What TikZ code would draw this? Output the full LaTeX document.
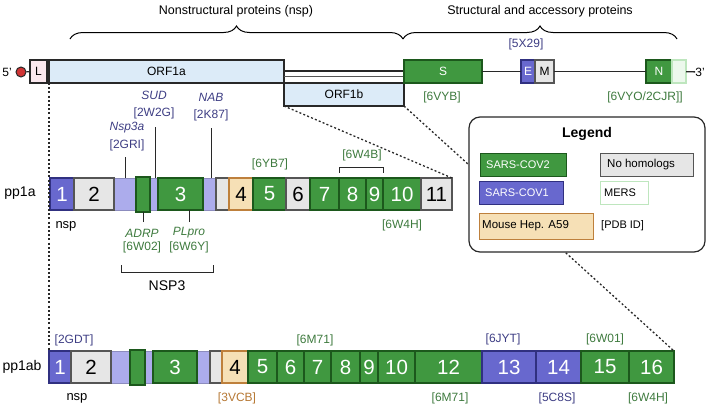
\documentclass[tikz,border=0pt]{standalone}
\usepackage{fontspec}
\setmainfont{Liberation Sans}
\usetikzlibrary{decorations.pathreplacing}
\definecolor{gfill}{RGB}{64,152,64}
\definecolor{gdraw}{RGB}{28,88,28}
\definecolor{bfill}{RGB}{104,104,206}
\definecolor{bdraw}{RGB}{48,48,128}
\definecolor{grfill}{RGB}{230,230,230}
\definecolor{grdraw}{RGB}{85,85,85}
\definecolor{lpfill}{RGB}{172,172,236}
\definecolor{lpdraw}{RGB}{140,140,190}
\definecolor{tanfill}{RGB}{246,224,182}
\definecolor{tandraw}{RGB}{190,128,60}
\definecolor{orffill}{RGB}{220,235,248}
\definecolor{lfill}{RGB}{250,232,238}
\definecolor{redc}{RGB}{208,52,52}
\definecolor{tblue}{RGB}{62,62,132}
\definecolor{tgreen}{RGB}{62,122,62}
\definecolor{torange}{RGB}{182,120,52}
\definecolor{mersdraw}{RGB}{190,230,190}
\definecolor{nlight}{RGB}{236,248,236}
\definecolor{linec}{RGB}{40,40,40}
\newcommand\seg[7][]{\node[#1, minimum width={(#4-#3)*1pt}, minimum height={(#6-#5)*1pt}] (#2) at ({(#3+#4)/2},{(#5+#6)/2}) {#7};}
\tikzset{
  boxbase/.style={inner sep=0pt, outer sep=0pt, line width=1.6pt, font=\fontsize{20.5}{20.5}\selectfont},
  sg/.style={boxbase, fill=gfill, draw=gdraw, text=white},
  sb/.style={boxbase, fill=bfill, draw=bdraw, text=white},
  sgr/.style={boxbase, fill=grfill, draw=grdraw, text=black},
  slp/.style={boxbase, fill=lpfill, draw=lpdraw, line width=1pt},
  stan/.style={boxbase, fill=tanfill, draw=tandraw, text=black},
  lab/.style={inner sep=0pt, font=\fontsize{12}{12}\selectfont},
  labb/.style={lab, text=tblue},
  labg/.style={lab, text=tgreen},
  labo/.style={lab, text=torange},
  ital/.style={font=\fontsize{12}{12}\selectfont\itshape},
  pin/.style={line width=1pt, draw=linec},
  dots/.style={line width=1.3pt, dash pattern=on 2pt off 2.2pt, draw=linec},
  rna/.style={line width=1.3pt, draw=linec},
  legbox/.style={inner sep=0pt, outer sep=0pt, line width=1pt, font=\fontsize{11}{11}\selectfont, anchor=west, text width=0pt},
}
\begin{document}
\begin{tikzpicture}[x=1pt,y=-1pt]
\useasboundingbox (0,0) rectangle (708,410);

% braces
\node[lab, font=\fontsize{12.5}{12.5}\selectfont] (tnsp) at (236,11) {Nonstructural proteins (nsp)};
\node[lab, font=\fontsize{12.5}{12.5}\selectfont] (tsap) at (540,11) {Structural and accessory proteins};
\coordinate (br1a) at (70,39);
\coordinate (br1b) at (403,39);
\coordinate (br2a) at (403,39);
\coordinate (br2b) at (677,39);
\draw[line width=1pt, decorate, decoration={brace, amplitude=13pt}] (br1a) -- (br1b);
\draw[line width=1pt, decorate, decoration={brace, amplitude=13pt}] (br2a) -- (br2b);

% genome row
\node[lab, font=\fontsize{12}{12}\selectfont] (five) at (7,72) {5'};
\node[circle, fill=redc, draw=linec, line width=1pt, minimum size=10pt, inner sep=0pt] (cap) at (21,72) {};
\seg[boxbase, fill=lfill, draw=linec, line width=1.2pt, font=\fontsize{12}{12}\selectfont]{L}{30}{47}{60}{83}{L}
\seg[boxbase, fill=orffill, draw=linec, line width=1.2pt, font=\fontsize{12}{12}\selectfont]{orfa}{49}{284}{60}{83}{ORF1a}
\seg[boxbase, fill=orffill, draw=linec, line width=1.2pt, font=\fontsize{12}{12}\selectfont]{orfb}{284}{404}{83}{106}{ORF1b}
\draw[rna] (cap) -- (L);
\draw[rna] (L) -- (orfa);
\coordinate (ta) at (284,71);
\coordinate (tb) at (404,71);
\coordinate (tc) at (284,76);
\coordinate (td) at (404,76);
\draw[rna] (ta) -- (tb);
\draw[line width=0.8pt, draw=grdraw] (tc) -- (td);
\seg[boxbase, fill=gfill, draw=gdraw, line width=1.2pt, text=white, font=\fontsize{12}{12}\selectfont]{S}{404}{482}{60}{83}{S}
\seg[boxbase, fill=bfill, draw=bdraw, line width=1.2pt, text=white, font=\fontsize{12}{12}\selectfont]{E}{521}{535}{60}{83}{E}
\seg[boxbase, fill=grfill, draw=grdraw, line width=1.2pt, text=black, font=\fontsize{12}{12}\selectfont]{M}{535}{554}{60}{83}{M}
\seg[boxbase, fill=gfill, draw=gdraw, line width=1.2pt, text=white, font=\fontsize{12}{12}\selectfont]{N}{646}{672}{60}{83}{N}
\seg[boxbase, fill=nlight, draw=mersdraw, line width=1.2pt]{Nx}{672}{686}{60}{83}{}
\node[lab, font=\fontsize{12}{12}\selectfont] (three) at (700,72) {3'};
\draw[rna] (S) -- (E);
\draw[rna] (M) -- (N);
\draw[rna] (Nx) -- (three);
\node[labb] (x5x29) at (526,44) {[5X29]};
\node[labg] (x6vyb) at (442,97) {[6VYB]};
\node[labg] (x6vyo) at (645,97) {[6VYO/2CJR]]};

% pp1a row
\node[lab, font=\fontsize{14}{14}\selectfont] (pp1a) at (20,193) {pp1a};
\seg[slp]{a3a}{114}{136}{178}{210}{}
\seg[slp]{a3b}{150}{158}{178}{210}{}
\seg[slp]{a3c}{203}{216}{178}{210}{}
\seg[sb]{a1}{50}{74}{178}{210}{1}
\seg[sgr]{a2}{74}{114}{178}{210}{2}
\seg[sg]{a3}{158}{203}{178}{210}{3}
\seg[sgr]{a3d}{216}{229}{178}{210}{}
\seg[stan]{a4}{229}{253}{178}{210}{4}
\seg[sg]{a5}{253}{286}{178}{210}{5}
\seg[sgr]{a6}{286}{310}{178}{210}{6}
\seg[sg]{a7}{310}{339}{178}{210}{7}
\seg[sg]{a8}{339}{366}{178}{210}{8}
\seg[sg]{a9}{366}{383}{178}{210}{9}
\seg[sg]{a10}{383}{421}{178}{210}{10}
\seg[sgr]{a11}{421}{452}{178}{210}{11}
\seg[sg]{a3s}{136}{150}{177}{212}{}

\node[lab, font=\fontsize{13}{13}\selectfont] (ansp) at (66,226) {nsp};
\node[labg] (x6yb7) at (270,164) {[6YB7]};
\node[labg] (x6w4b) at (362,155) {[6W4B]};
\draw[line width=0.9pt, draw=linec] ([yshift=5pt]a8.north west) -- ++(0,-6) -| ([yshift=5pt]a9.north east);
\node[labg] (x6w4h) at (402,225) {[6W4H]};

\node[labb, ital] (tnsp3a) at (127,128) {Nsp3a};
\node[labb] (x2gri) at (127,145) {[2GRI]};
\node[labb, ital] (tsud) at (154,95) {SUD};
\node[labb] (x2w2g) at (154,113) {[2W2G]};
\node[labb, ital] (tnab) at (211,97) {NAB};
\node[labb] (x2k87) at (211,115) {[2K87]};
\node[labg, ital] (tadrp) at (142,233) {ADRP};
\node[labg] (x6w02) at (142,247) {[6W02]};
\node[labg, ital] (tplpro) at (189,233) {PLpro};
\node[labg] (x6w6y) at (189,247) {[6W6Y]};
\coordinate (c2gri) at (125,157);
\coordinate (c2w2g) at (155,127);
\coordinate (c2k87) at (211,128);
\coordinate (cadrp) at (143,222);
\coordinate (cplpro) at (189,222);
\draw[pin] (c2gri) -- (c2gri |- a3a.north);
\draw[pin] (c2w2g) -- (c2w2g |- a3b.north);
\draw[pin] (c2k87) -- (c2k87 |- a3c.north);
\draw[pin] (cadrp) -- (cadrp |- a3s.south);
\draw[pin] (cplpro) -- (cplpro |- a3.south);
\coordinate (nb1) at (121,265);
\coordinate (nb2) at (213,265);
\draw[line width=0.9pt, draw=linec] (nb1) -- ++(0,7) -| (nb2);
\node[lab, font=\fontsize{14}{14}\selectfont] (tnsp3) at (167,286) {NSP3};

% pp1ab row
\node[lab, font=\fontsize{14}{14}\selectfont] (pp1ab) at (22,367) {pp1ab};
\seg[slp]{b3a}{111}{130}{351}{383}{}
\seg[slp]{b3b}{145}{153}{351}{383}{}
\seg[slp]{b3c}{197}{210}{351}{383}{}
\seg[sb]{b1}{49}{71}{351}{383}{1}
\seg[sgr]{b2}{71}{111}{351}{383}{2}
\seg[sg]{b3}{153}{197}{351}{383}{3}
\seg[sgr]{b3d}{210}{222}{351}{383}{}
\seg[stan]{b4}{222}{248}{351}{383}{4}
\seg[sg]{b5}{248}{277}{351}{383}{5}
\seg[sg]{b6}{277}{304}{351}{383}{6}
\seg[sg]{b7}{304}{331}{351}{383}{7}
\seg[sg]{b8}{331}{360}{351}{383}{8}
\seg[sg]{b9}{360}{378}{351}{383}{9}
\seg[sg]{b10}{378}{415}{351}{383}{10}
\seg[sg]{b12}{415}{482}{351}{383}{12}
\seg[sb]{b13}{482}{536}{351}{383}{13}
\seg[sb]{b14}{536}{581}{351}{383}{14}
\seg[sg]{b15}{581}{629}{351}{383}{15}
\seg[sg]{b16}{629}{674}{351}{383}{16}
\seg[sg]{b3s}{130}{145}{350}{385}{}

\node[labb] (x2gdt) at (74,340) {[2GDT]};
\node[lab, font=\fontsize{13}{13}\selectfont] (bnsp) at (77,398) {nsp};
\node[labo] (x3vcb) at (237,398) {[3VCB]};
\node[labg] (x6m71a) at (315,340) {[6M71]};
\node[labg] (x6m71b) at (450,398) {[6M71]};
\node[labb] (x6jyt) at (503,339) {[6JYT]};
\node[labb] (x5c8s) at (557,398) {[5C8S]};
\node[labg] (x6w01) at (605,339) {[6W01]};
\node[labg] (x6w4hb) at (648,398) {[6W4H]};

% dotted zoom lines
\draw[dots] (orfa.south west) -- (b1.north west);
\draw[dots] (orfb.south west) -- (a11.north east);
\draw[dots] (orfb.south east) -- (b16.north east);

% legend
\node[draw=linec, line width=1.2pt, fill=white, rounded corners=11pt, minimum width=236pt, minimum height=135pt, inner sep=0pt] (legend) at (587,184.5) {};
\node[inner sep=0pt, font=\fontsize{14}{14}\selectfont\bfseries] (tleg) at (587,134) {Legend};
\seg[legbox, anchor=center, fill=gfill, draw=gdraw, text=white]{lg2}{480}{566}{153}{176}{}
\seg[legbox, anchor=center, fill=bfill, draw=bdraw, text=white]{lg1}{479}{563}{181}{204}{}
\seg[legbox, anchor=center, fill=tanfill, draw=tandraw]{lgm}{479}{593}{213}{239}{}
\seg[legbox, anchor=center, fill=grfill, draw=grdraw]{lgn}{600}{693}{153}{176}{}
\seg[legbox, anchor=center, fill=white, draw=mersdraw]{lgmers}{600}{648}{181}{204}{}
\node[lab, font=\fontsize{11}{11}\selectfont, text=white, anchor=west] (tlg2) at (486,164.5) {SARS-COV2};
\node[lab, font=\fontsize{11}{11}\selectfont, text=white, anchor=west] (tlg1) at (485,192.5) {SARS-COV1};
\node[lab, font=\fontsize{11.5}{11.5}\selectfont, anchor=west] (tlgm) at (482,226) {Mouse Hep. A59};
\node[lab, font=\fontsize{11.5}{11.5}\selectfont, anchor=west] (tlgn) at (607,164.5) {No homologs};
\node[lab, font=\fontsize{11}{11}\selectfont, anchor=west] (tlgmers) at (604,192.5) {MERS};
\node[lab, font=\fontsize{11}{11}\selectfont, anchor=west] (tpdb) at (601,226) {[PDB ID]};
\end{tikzpicture}
\end{document}
